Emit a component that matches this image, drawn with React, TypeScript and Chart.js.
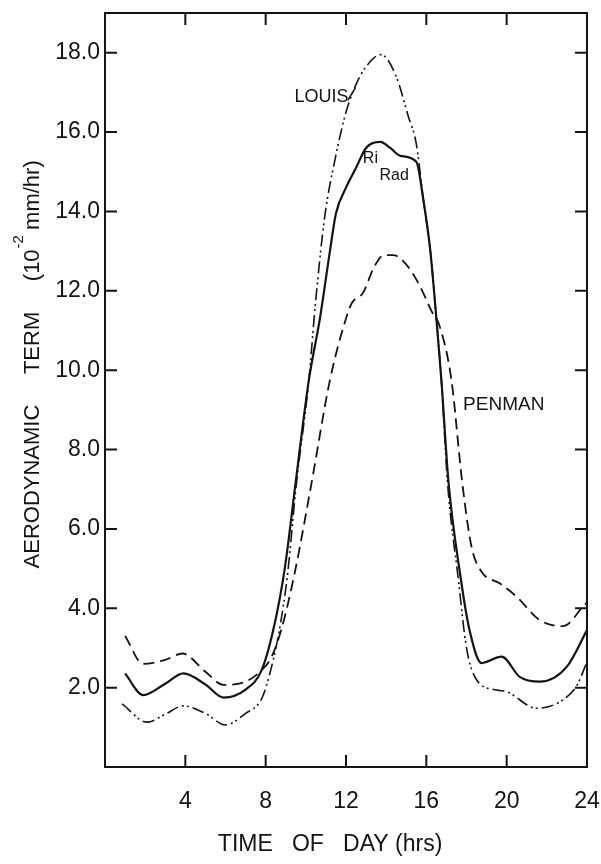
import React, { useEffect, useRef } from 'react';
import { Chart, registerables } from 'chart.js';

Chart.register(...registerables);

// ---------- data (hours of day, 10^-2 mm/hr) ----------
const riHours = [1, 1.9, 3, 3.9, 5, 5.9, 7, 7.8, 8.4, 8.95, 9.5, 10.15, 10.7, 11.2, 11.5, 12, 12.5, 13, 13.7, 14.2, 14.7, 15.5, 15.85, 16.2, 16.5, 16.75, 17.1, 17.7, 18.15, 18.75, 19.75, 20.65, 21.65, 23, 24];
const riValues = [2.36, 1.81, 2.1, 2.36, 2.08, 1.75, 1.95, 2.44, 3.5, 5.0, 7.2, 9.75, 11.3, 13.0, 13.95, 14.6, 15.1, 15.6, 15.75, 15.6, 15.4, 15.25, 14.3, 13.0, 11.3, 9.75, 7.2, 4.8, 3.45, 2.62, 2.78, 2.27, 2.15, 2.53, 3.45];

const louisHours = [0.85, 2.1, 3.0, 3.9, 5.0, 6.0, 7.0, 7.8, 8.25, 8.7, 9.1, 9.5, 10.15, 10.5, 10.95, 11.45, 12.0, 12.5, 13.0, 13.75, 14.5, 15.1, 15.5, 15.85, 16.2, 16.5, 16.75, 17.05, 17.6, 18.0, 18.5, 19.5, 20.0, 21.5, 22.8, 23.5, 24];
const louisValues = [1.59, 1.13, 1.33, 1.54, 1.35, 1.06, 1.35, 1.72, 2.44, 3.5, 4.9, 7.0, 9.75, 11.8, 13.9, 15.3, 16.5, 17.2, 17.65, 17.95, 17.4, 16.4, 15.7, 14.3, 13.0, 11.3, 9.75, 7.2, 4.7, 3.0, 2.2, 1.94, 1.9, 1.48, 1.69, 2.06, 2.65];

const penmanHours = [1.0, 1.9, 3.0, 3.85, 5.0, 5.9, 7.0, 7.8, 8.3, 8.8, 9.45, 10.3, 11.2, 12.0, 12.3, 12.85, 13.4, 13.9, 14.35, 14.85, 15.6, 16.35, 16.6, 17.25, 17.78, 18.25, 18.75, 19.65, 20.5, 21.65, 22.8, 23.8, 24];
const penmanValues = [3.3, 2.6, 2.7, 2.86, 2.4, 2.07, 2.15, 2.44, 2.78, 3.5, 4.9, 7.2, 9.75, 11.3, 11.7, 11.95, 12.6, 12.9, 12.9, 12.75, 12.2, 11.4, 11.2, 9.75, 7.2, 5.55, 4.92, 4.63, 4.29, 3.7, 3.55, 4.04, 4.15];

const xTickHours = [4, 8, 12, 16, 20, 24];
const yTickValues = [2, 4, 6, 8, 10, 12, 14, 16, 18];
const xRange = [0, 24];
const yRange = [0, 19];

const xTitle = 'TIME   OF   DAY (hrs)';
const yTitleMain = 'AERODYNAMIC     TERM     (10';
const yTitleSup = '-2';
const yTitleTail = ' mm/hr)';

// curve labels anchored in data coordinates
const louisLabel = { text: 'LOUIS', x: 9.43, y: 16.75 };
const louisLeader = { x1: 12.09, y1: 16.8, x2: 12.47, y2: 17.12 };
const riLabel = { text: 'Ri', x: 12.84, y: 15.21 };
const riSubLabel = { text: 'Rad', x: 13.67, y: 14.79 };
const penmanLabel = { text: 'PENMAN', x: 17.83, y: 8.99 };

// ---------- styling ----------
const INK = '#141414';
const FONT = '"Liberation Sans", Arial, Helvetica, sans-serif';
const TICK = 12;

const toPoints = (xs: number[], ys: number[]) => xs.map((x, i) => ({ x, y: ys[i] }));

const decorPlugin = {
  id: 'decor',
  afterDraw(chart: any) {
    const { ctx, chartArea: a, scales } = chart;
    const xs = scales.x;
    const ys = scales.y;
    ctx.save();
    ctx.strokeStyle = INK;
    ctx.fillStyle = INK;
    ctx.lineWidth = 2;
    ctx.setLineDash([]);
    ctx.strokeRect(a.left, a.top, a.right - a.left, a.bottom - a.top);

    // inward ticks on all four sides
    ctx.beginPath();
    xTickHours.forEach((h) => {
      if (h <= xRange[0] || h >= xRange[1]) return;
      const px = xs.getPixelForValue(h);
      ctx.moveTo(px, a.bottom);
      ctx.lineTo(px, a.bottom - TICK);
      ctx.moveTo(px, a.top);
      ctx.lineTo(px, a.top + TICK);
    });
    yTickValues.forEach((v) => {
      const py = ys.getPixelForValue(v);
      ctx.moveTo(a.left, py);
      ctx.lineTo(a.left + TICK, py);
      ctx.moveTo(a.right, py);
      ctx.lineTo(a.right - TICK, py);
    });
    ctx.stroke();

    // x axis title
    ctx.font = `23px ${FONT}`;
    ctx.textAlign = 'center';
    ctx.textBaseline = 'middle';
    ctx.fillText(xTitle, a.left + (a.right - a.left) * 0.467, a.bottom + 78);

    // y axis title (rotated, with superscript)
    const cy = a.top + (a.bottom - a.top) * 0.466;
    ctx.save();
    ctx.translate(33, cy);
    ctx.rotate(-Math.PI / 2);
    ctx.textAlign = 'left';
    ctx.font = `22px ${FONT}`;
    const w1 = ctx.measureText(yTitleMain).width;
    const w3 = ctx.measureText(yTitleTail).width;
    ctx.font = `15px ${FONT}`;
    const w2 = ctx.measureText(yTitleSup).width;
    const start = -(w1 + w2 + w3) / 2;
    ctx.font = `22px ${FONT}`;
    ctx.fillText(yTitleMain, start, 0);
    ctx.fillText(yTitleTail, start + w1 + w2, 0);
    ctx.font = `15px ${FONT}`;
    ctx.fillText(yTitleSup, start + w1 + 1, -14);
    ctx.restore();

    // curve labels
    ctx.textAlign = 'left';
    ctx.textBaseline = 'alphabetic';
    ctx.font = `18px ${FONT}`;
    ctx.fillText(louisLabel.text, xs.getPixelForValue(louisLabel.x), ys.getPixelForValue(louisLabel.y));
    ctx.lineWidth = 1.5;
    ctx.beginPath();
    ctx.moveTo(xs.getPixelForValue(louisLeader.x1), ys.getPixelForValue(louisLeader.y1));
    ctx.lineTo(xs.getPixelForValue(louisLeader.x2), ys.getPixelForValue(louisLeader.y2));
    ctx.stroke();
    ctx.font = `16px ${FONT}`;
    ctx.fillText(riLabel.text, xs.getPixelForValue(riLabel.x), ys.getPixelForValue(riLabel.y));
    ctx.fillText(riSubLabel.text, xs.getPixelForValue(riSubLabel.x), ys.getPixelForValue(riSubLabel.y));
    ctx.font = `19px ${FONT}`;
    ctx.fillText(penmanLabel.text, xs.getPixelForValue(penmanLabel.x), ys.getPixelForValue(penmanLabel.y));
    ctx.restore();
  },
};

export default function App() {
  const ref = useRef<HTMLCanvasElement | null>(null);

  useEffect(() => {
    if (!ref.current) return;
    const lineBase = {
      borderColor: INK,
      backgroundColor: INK,
      pointRadius: 0,
      fill: false,
      cubicInterpolationMode: 'monotone' as const,
    };
    const chart = new Chart(ref.current, {
      type: 'line',
      data: {
        datasets: [
          { ...lineBase, label: 'Ri Rad', data: toPoints(riHours, riValues), borderWidth: 2.2 },
          { ...lineBase, label: 'PENMAN', data: toPoints(penmanHours, penmanValues), borderWidth: 1.8, borderDash: [11, 6] },
          { ...lineBase, label: 'LOUIS', data: toPoints(louisHours, louisValues), borderWidth: 1.6, borderDash: [12, 4, 2, 3, 2, 4] },
        ],
      },
      options: {
        animation: false,
        responsive: false,
        devicePixelRatio: 1,
        maintainAspectRatio: false,
        layout: { padding: { left: 0, right: 14, top: 13, bottom: 0 } },
        plugins: { legend: { display: false }, tooltip: { enabled: false }, title: { display: false } },
        scales: {
          x: {
            type: 'linear',
            min: xRange[0],
            max: xRange[1],
            grid: { display: false, drawTicks: false },
            border: { display: false },
            afterBuildTicks: (s: any) => { s.ticks = xTickHours.map((v) => ({ value: v })); },
            afterFit: (s: any) => { s.height = 97; s.paddingLeft = 0; s.paddingRight = 0; },
            ticks: {
              autoSkip: false,
              maxRotation: 0,
              padding: 21,
              color: INK,
              font: { family: FONT, size: 23 },
              callback: (v: any) => String(v),
            },
          },
          y: {
            type: 'linear',
            min: yRange[0],
            max: yRange[1],
            grid: { display: false, drawTicks: false },
            border: { display: false },
            afterBuildTicks: (s: any) => { s.ticks = yTickValues.map((v) => ({ value: v })); },
            afterFit: (s: any) => { s.width = 105; s.paddingTop = 0; s.paddingBottom = 0; },
            ticks: {
              autoSkip: false,
              padding: 5,
              color: INK,
              font: { family: FONT, size: 23 },
              callback: (v: any) => Number(v).toFixed(1),
            },
          },
        },
      },
      plugins: [decorPlugin],
    } as any);
    return () => chart.destroy();
  }, []);

  return (
    <div style={{ position: 'absolute', left: 0, top: 0, width: 601, height: 864, background: '#fff' }}>
      <canvas ref={ref} width={601} height={864} style={{ display: 'block', width: 601, height: 864 }} />
    </div>
  );
}
